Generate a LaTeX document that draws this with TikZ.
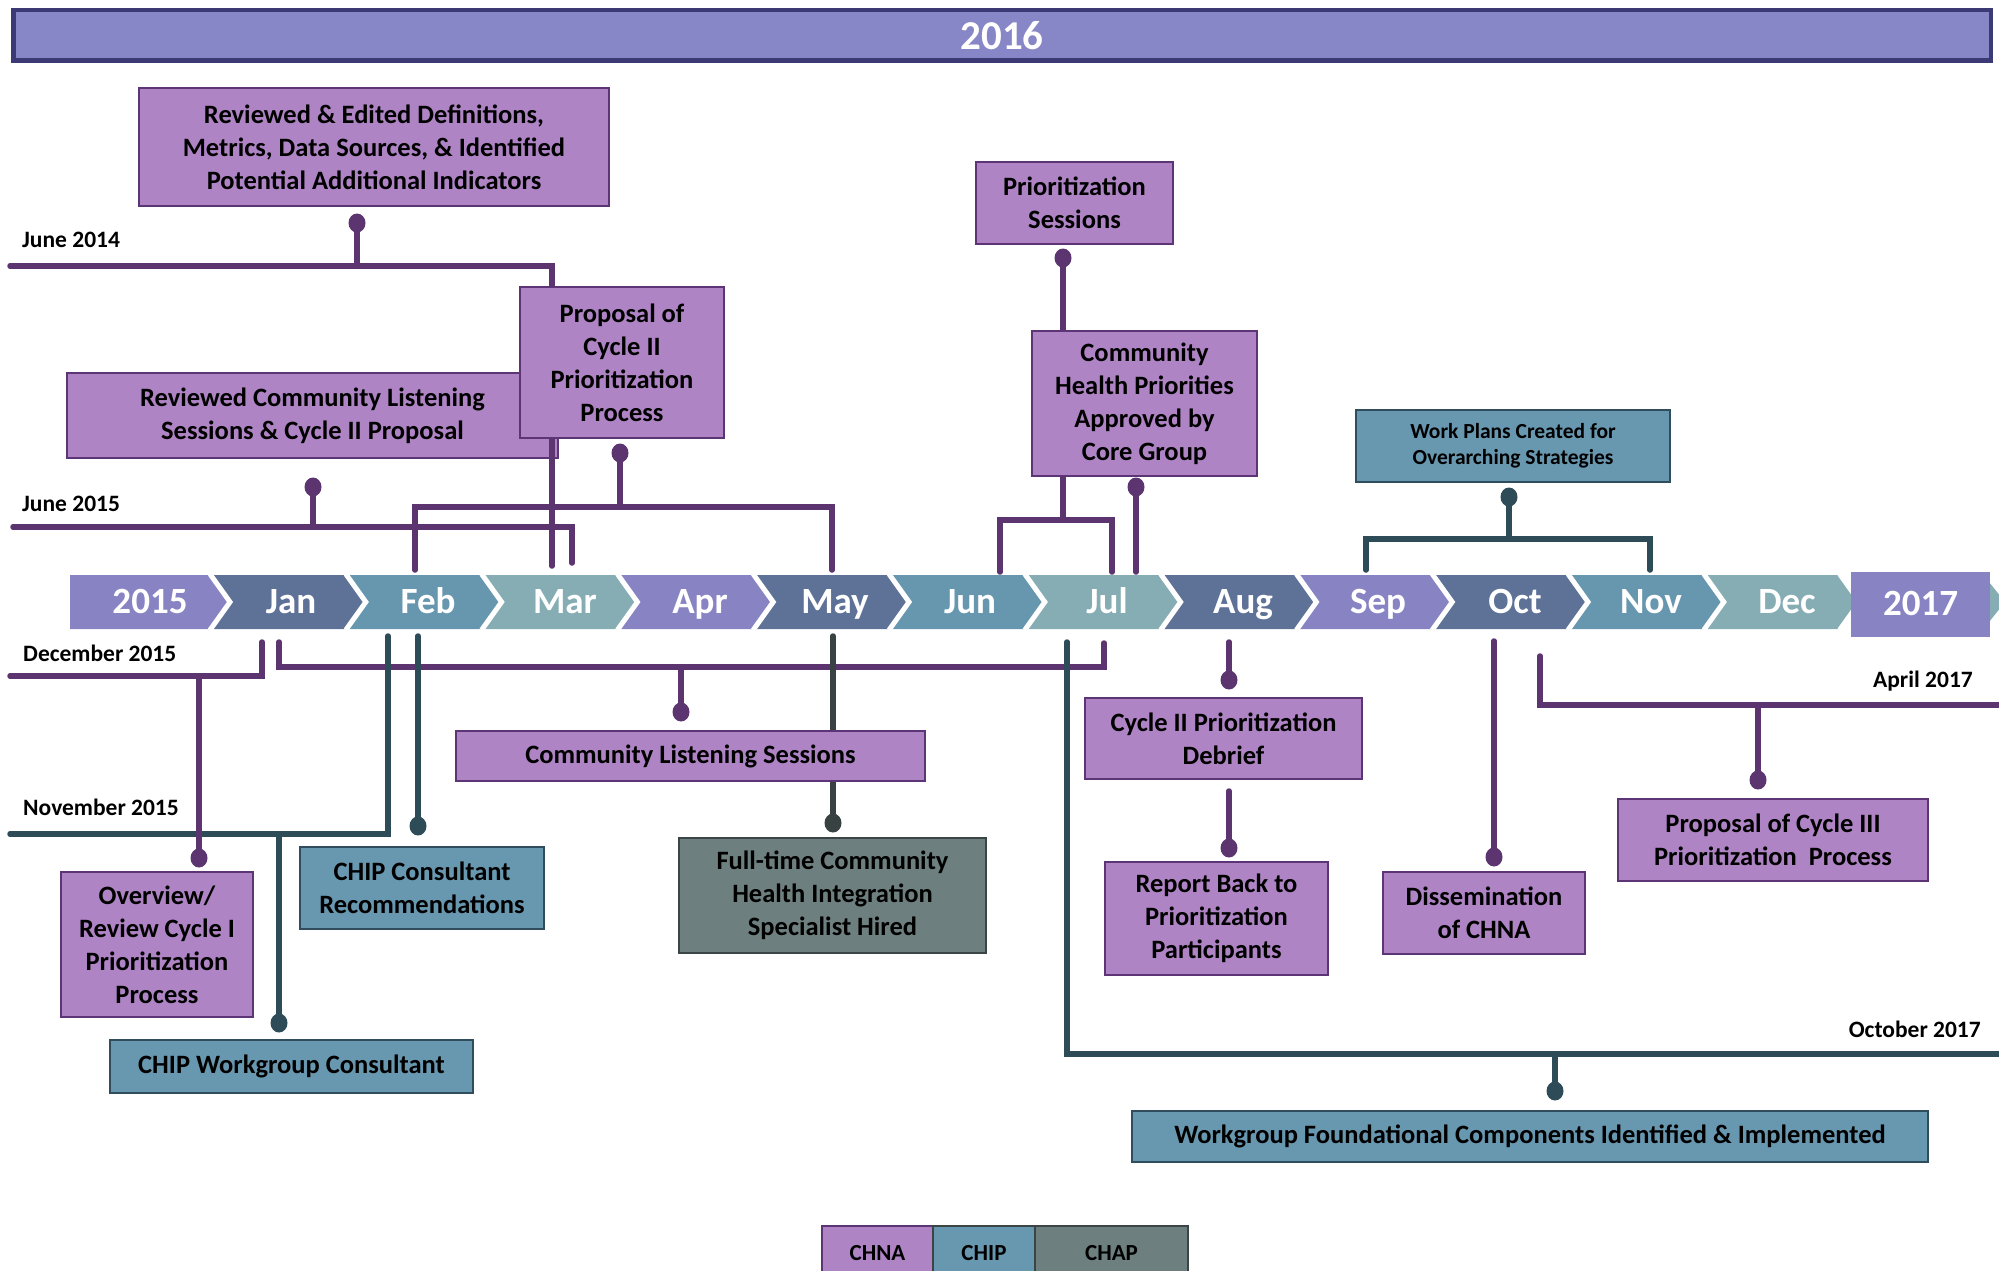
\documentclass[tikz,border=0pt]{standalone}
\usepackage{fontspec}
\setmainfont{Carlito}
\usetikzlibrary{shapes.geometric}
\definecolor{chnafill}{HTML}{AF84C5}
\definecolor{chnaedge}{HTML}{5D3577}
\definecolor{chnaline}{HTML}{5B3470}
\definecolor{chipfill}{HTML}{6897B0}
\definecolor{chipedge}{HTML}{2F4D5C}
\definecolor{chipline}{HTML}{2E4B58}
\definecolor{chapfill}{HTML}{6E7F7F}
\definecolor{chapedge}{HTML}{3B4545}
\definecolor{chapline}{HTML}{384242}
\definecolor{tlA}{HTML}{8884C4}
\definecolor{tlB}{HTML}{5E7196}
\definecolor{tlC}{HTML}{6797AF}
\definecolor{tlD}{HTML}{85ADB3}
\definecolor{titlefill}{HTML}{8786C6}
\definecolor{titleedge}{HTML}{3C3A75}
\pgfdeclarelayer{back}
\pgfdeclarelayer{boxlow}
\pgfdeclarelayer{lines}
\pgfsetlayers{back,boxlow,lines,main}
\tikzset{
  boxbase/.style={draw, line width=2.5pt, inner sep=0pt, align=center, text=black,
    font={\fontsize{26.5}{33}\selectfont\bfseries}},
  chna/.style={boxbase, fill=chnafill, draw=chnaedge},
  chip/.style={boxbase, fill=chipfill, draw=chipedge},
  chap/.style={boxbase, fill=chapfill, draw=chapedge},
  sz/.style 2 args={minimum width=#1, minimum height=#2},
  cline/.style={line width=5.5pt, line cap=round},
  purp/.style={cline, draw=chnaline},
  chipl/.style={cline, draw=chipline},
  chapl/.style={cline, draw=chapline},
  knob/.style={ellipse, inner sep=0pt, minimum width=17pt, minimum height=19pt, fill=#1},
  datelab/.style={font={\fontsize{23.5}{26}\selectfont\bfseries}, inner sep=0pt, text=black},
  monthlab/.style={font={\fontsize{37}{40}\selectfont\bfseries}, text=white, inner sep=0pt, anchor=base},
  legendbox/.style={boxbase, line width=2pt, font={\fontsize{23}{26}\selectfont\bfseries}},
}
\begin{document}
\begin{tikzpicture}[x=1pt, y=-1pt]
\useasboundingbox (0,0) rectangle (1999,1271);

% ---------- title and timeline ----------
\begin{pgfonlayer}{back}
\node[draw=titleedge, fill=titlefill, line width=4.5pt, minimum width=1977.5, minimum height=50.5,
  inner sep=0pt, text=white, font={\fontsize{41}{44}\selectfont\bfseries}] (title) at (1002,35.5) {2016};
\fill[tlD] (1989,582) -- (2005,602) -- (1989,622) -- cycle;
\fill[tlA] (70,575) -- (210,575) -- (230,602) -- (210,629) -- (70,629) -- cycle;
\node[monthlab] (m0) at (150,613) {2015};
\foreach \k/\col/\lab/\lx in {1/tlB/Jan/291, 2/tlC/Feb/428, 3/tlD/Mar/565, 4/tlA/Apr/700,
   5/tlB/May/835, 6/tlC/Jun/970, 7/tlD/Jul/1107, 8/tlB/Aug/1243, 9/tlA/Sep/1378,
   10/tlB/Oct/1515, 11/tlC/Nov/1651, 12/tlD/Dec/1787}{
  \pgfmathsetmacro\L{210+135.8*(\k-1)}
  \pgfmathsetmacro\R{210+135.8*\k}
  \fill[\col] (\L,575) -- (\R,575) -- ({\R+20},602) -- (\R,629) -- (\L,629) -- ({\L+20},602) -- cycle;
  \node[monthlab] (m\k) at (\lx,613) {\lab};
}
\foreach \k in {0,...,12}{
  \pgfmathsetmacro\B{210+135.8*\k}
  \draw[white, line width=5pt] (\B,574) -- ({\B+20},602) -- (\B,630);
}
\node[fill=tlA, inner sep=0pt, minimum width=139, minimum height=65] (y17) at (1920.5,604.5) {};
\node[monthlab] (m13) at (1920.5,615) {2017};
\end{pgfonlayer}

% ---------- boxes above the timeline ----------
\node[chna, sz={470}{118}] (A) at (374,147)
  {Reviewed \& Edited Definitions,\\Metrics, Data Sources, \& Identified\\Potential Additional Indicators};
\begin{pgfonlayer}{boxlow}
\node[chna, sz={491}{85}] (B) at (312.5,415.5)
  {Reviewed Community Listening\\Sessions \& Cycle II Proposal};
\end{pgfonlayer}
\node[chna, sz={204}{151}] (C) at (622,362.5) {Proposal of\\Cycle II\\Prioritization\\Process};
\node[chna, sz={197}{82}] (D) at (1074.5,203) {Prioritization\\Sessions};
\node[chna, sz={225}{145}] (E) at (1144.5,403.5) {Community\\Health Priorities\\Approved by\\Core Group};
\node[chip, sz={314}{72}, font={\fontsize{21.5}{26}\selectfont\bfseries}] (F) at (1513,446)
  {Work Plans Created for\\Overarching Strategies};

% ---------- boxes below the timeline ----------
\node[chna, sz={192}{145}] (G) at (157,944.5) {Overview/\\Review Cycle I\\Prioritization\\Process};
\node[chip, sz={363}{53}] (H) at (291.5,1066.5) {CHIP Workgroup Consultant};
\node[chip, sz={244}{82}] (I) at (422,888) {CHIP Consultant\\Recommendations};
\node[chna, sz={469}{50}] (J) at (690.5,756) {Community Listening Sessions};
\node[chap, sz={307}{115}] (K) at (832.5,895.5) {Full-time Community\\Health Integration\\Specialist Hired};
\node[chna, sz={277}{81}] (L) at (1223.5,738.5) {Cycle II Prioritization\\Debrief};
\node[chna, sz={223}{113}] (M) at (1216.5,918.5) {Report Back to\\Prioritization\\Participants};
\node[chna, sz={202}{82}] (N) at (1484,913) {Dissemination\\of CHNA};
\node[chna, sz={310}{82}] (O) at (1773,840) {Proposal of Cycle III\\Prioritization\hspace{6pt} Process};
\node[chip, sz={796}{51}] (P) at (1530,1136.5) {Workgroup Foundational Components Identified \& Implemented};

% ---------- legend ----------
\node[legendbox, fill=chnafill, draw=chnaedge, sz={111}{54}] (lgA) at (877.5,1253) {CHNA};
\node[legendbox, fill=chipfill, draw=chapedge, sz={102}{54}] (lgB) at (984,1253) {CHIP};
\node[legendbox, fill=chapfill, draw=chapedge, sz={153}{54}] (lgC) at (1111.5,1253) {CHAP};

% ---------- date labels ----------
\node[datelab, anchor=base west] (tJ14) at (22,247) {June 2014};
\node[datelab, anchor=base west] (tJ15) at (22,511) {June 2015};
\node[datelab, anchor=base west] (tD15) at (23,661) {December 2015};
\node[datelab, anchor=base west] (tN15) at (23,815) {November 2015};
\node[datelab, anchor=base east] (tA17) at (1973,687) {April 2017};
\node[datelab, anchor=base east] (tO17) at (1981,1037) {October 2017};

% ---------- knobs ----------
\node[knob=chnaline] (kA) at (357,223) {};
\node[knob=chnaline] (kB) at (313,487) {};
\node[knob=chnaline] (kC) at (620,453) {};
\node[knob=chnaline] (kD) at (1063,258) {};
\node[knob=chnaline] (kE) at (1136,487) {};
\node[knob=chipline] (kF) at (1509,497) {};
\node[knob=chnaline] (kG) at (199,858) {};
\node[knob=chipline] (kH) at (279,1023) {};
\node[knob=chipline] (kI) at (418,826) {};
\node[knob=chnaline] (kJ) at (681,712) {};
\node[knob=chapline] (kK) at (833,823) {};
\node[knob=chnaline] (kL) at (1229,680) {};
\node[knob=chnaline] (kM) at (1229,848) {};
\node[knob=chnaline] (kN) at (1494,857) {};
\node[knob=chnaline] (kO) at (1758,780) {};
\node[knob=chipline] (kP) at (1555,1091) {};

% ---------- coordinates ----------
\coordinate (j14a) at (10,266);   \coordinate (j14b) at (552,266);  \coordinate (j14c) at (552,566);
\coordinate (j15a) at (13,527);   \coordinate (j15b) at (572,527);  \coordinate (j15c) at (572,563);
\coordinate (cbL) at (415,570);   \coordinate (cbM) at (620,507);   \coordinate (cbR) at (832,570);
\coordinate (ebL) at (1000,572);  \coordinate (ebM) at (1063,520);  \coordinate (ebR) at (1112,572);
\coordinate (eT) at (1136,572);
\coordinate (fbL) at (1366,570);  \coordinate (fbM) at (1509,539);  \coordinate (fbR) at (1650,570);
\coordinate (d15a) at (10,676);   \coordinate (d15b) at (262,676);  \coordinate (d15c) at (262,642);
\coordinate (clsL) at (279,642);  \coordinate (clsM) at (681,667);  \coordinate (clsR) at (1104,643);
\coordinate (n15a) at (10,834);   \coordinate (n15b) at (388,834);  \coordinate (n15c) at (388,636);
\coordinate (ciT) at (418,636);
\coordinate (ckT) at (833,636);
\coordinate (dbT) at (1229,642);
\coordinate (rbT) at (1229,791);
\coordinate (oT) at (1494,641);
\coordinate (a17a) at (1540,656); \coordinate (a17b) at (1540,705); \coordinate (a17c) at (2010,705);
\coordinate (o17a) at (1067,642); \coordinate (o17b) at (1067,1054); \coordinate (o17c) at (2010,1054);

% ---------- connectors ----------
\begin{pgfonlayer}{lines}
\draw[purp] (kA.center) -- (kA.center |- j14a);
\draw[purp] (j14a) -- (j14b) -- (j14c);
\draw[purp] (kB.center) -- (kB.center |- j15a);
\draw[purp] (j15a) -- (j15b) -- (j15c);
\draw[purp] (kC.center) -- (cbM);
\draw[purp] (cbL) |- (cbM) -| (cbR);
\draw[purp] (kD.center) -- (ebM);
\draw[purp] (ebL) |- (ebM) -| (ebR);
\draw[purp] (kE.center) -- (eT);
\draw[purp] (clsL) |- (clsM) -| (clsR);
\draw[purp] (clsM) -- (kJ.center);
\draw[purp] (dbT) -- (kL.center);
\draw[purp] (rbT) -- (kM.center);
\draw[purp] (oT) -- (kN.center);
\draw[purp] (a17a) -- (a17b) -- (a17c);
\draw[purp] (kO.center |- a17b) -- (kO.center);
\draw[chipl] (kF.center) -- (fbM);
\draw[chipl] (fbL) |- (fbM) -| (fbR);
\draw[chipl] (n15a) -- (n15b) -- (n15c);
\draw[chipl] (kH.center |- n15a) -- (kH.center);
\draw[chipl] (ciT) -- (kI.center);
\draw[chapl] (ckT) -- (kK.center);
\draw[chipl] (o17a) -- (o17b) -- (o17c);
\draw[chipl] (kP.center |- o17b) -- (kP.center);
\draw[purp] (d15a) -- (d15b) -- (d15c);
\draw[purp] (kG.center |- d15a) -- (kG.center);
\end{pgfonlayer}
\end{tikzpicture}
\end{document}
